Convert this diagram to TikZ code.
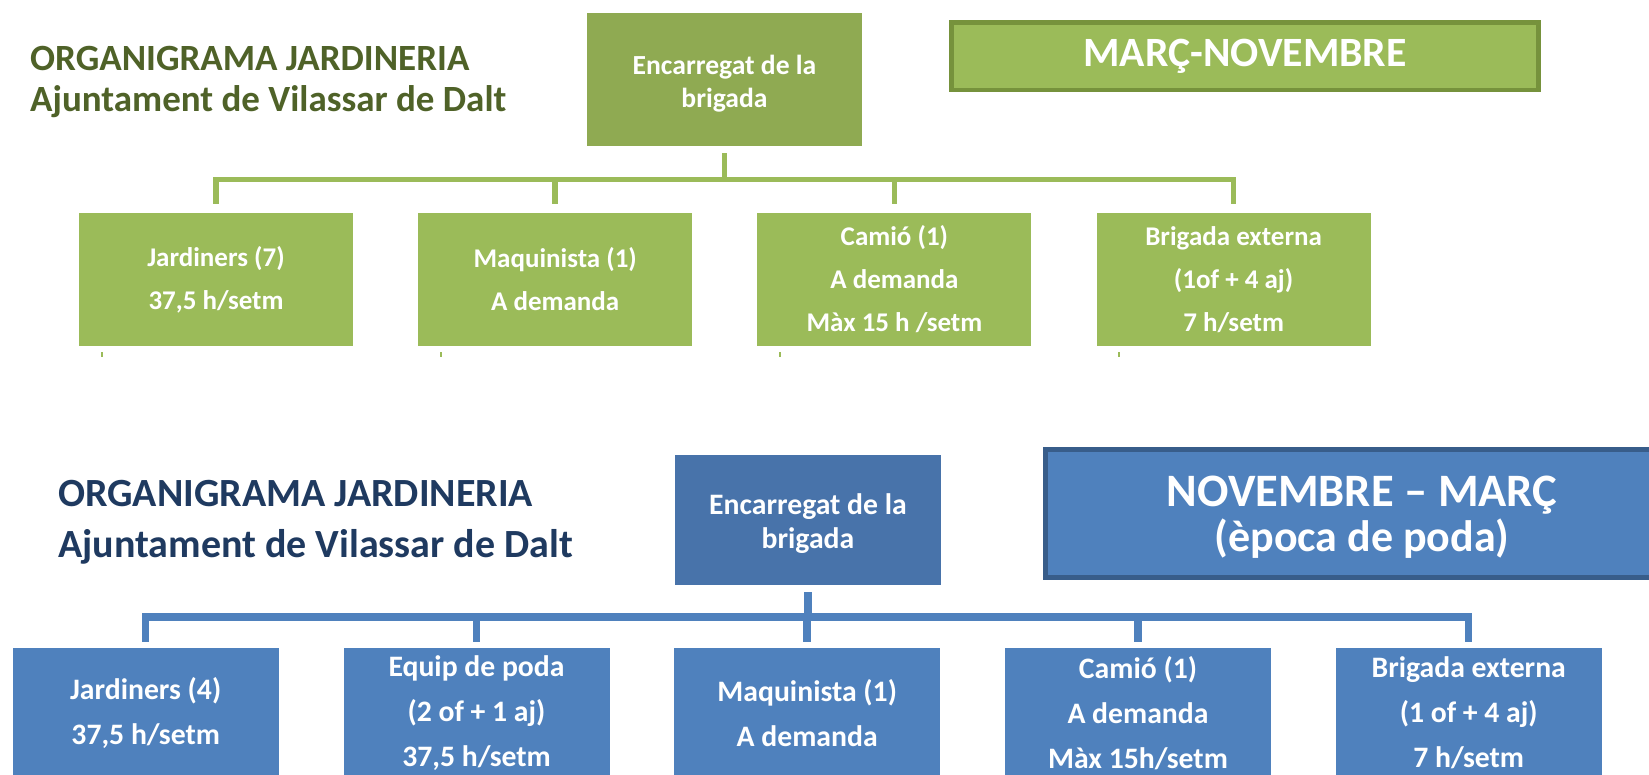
\documentclass[tikz,border=0pt]{standalone}
\usepackage{fontspec}
\setmainfont{Carlito}
\definecolor{gfill}{HTML}{9BBB59}
\definecolor{gtopc}{HTML}{8FAA52}
\definecolor{gborder}{HTML}{76923C}
\definecolor{gtitle}{HTML}{4F6228}
\definecolor{bfill}{HTML}{4F81BD}
\definecolor{btopc}{HTML}{4873AA}
\definecolor{bborder}{HTML}{385D8A}
\definecolor{btitle}{HTML}{1F3A60}
\begin{document}
\begin{tikzpicture}[x=1pt,y=-1pt,
  box/.style={draw=none, inner sep=0pt, align=center, text=white},
  label/.style={inner sep=0pt, align=center, text=white},
  gtitlestyle/.style={anchor=base west, inner sep=0pt, text=gtitle, font=\fontsize{37}{42}\selectfont\bfseries},
  btitlestyle/.style={anchor=base west, inner sep=0pt, text=btitle, font=\fontsize{40}{46}\selectfont\bfseries},
  gtopbox/.style={box, fill=gtopc, minimum width=275pt, minimum height=133pt},
  gtoptext/.style={label, font=\fontsize{27.6}{33}\selectfont\bfseries},
  gchild/.style={box, fill=gfill, minimum width=274pt, minimum height=133pt, font=\fontsize{27}{43}\selectfont\bfseries},
  gseasonbox/.style={box, fill=gfill, draw=gborder, line width=4.5pt, minimum width=587pt, minimum height=67.5pt, font=\fontsize{41.7}{48}\selectfont\bfseries},
  btopbox/.style={box, fill=btopc, minimum width=266pt, minimum height=130pt},
  btoptext/.style={label, font=\fontsize{29.7}{34}\selectfont\bfseries},
  bchild/.style={box, fill=bfill, minimum width=266pt, minimum height=132pt},
  bchildtext/.style={label, font=\fontsize{29.7}{45}\selectfont\bfseries},
  bseasonbox/.style={box, fill=bfill, draw=bborder, line width=5pt, minimum width=633pt, minimum height=128pt},
  bseasontext/.style={label, font=\fontsize{44}{45}\selectfont\bfseries},
  gconn/.style={draw=gfill, line width=5.5pt},
  bconn/.style={draw=bfill, line width=7.5pt},
  tick/.style={draw=gfill, line width=2pt}
]
\useasboundingbox (0,0) rectangle (1649,774);
\clip (0,0) rectangle (1649,774);
\fill[white] (0,0) rectangle (1649,774);

% ---------- green (top) ----------
\node[gtitlestyle] (gt1) at (30,70) {ORGANIGRAMA JARDINERIA};
\node[gtitlestyle] (gt2) at (30,111) {Ajuntament de Vilassar de Dalt};
\node[gtopbox] (gtop) at (724.5,79.5) {};
\node[gtoptext] (gtopt) at ([yshift=-4pt]gtop.center) {Encarregat de la\\brigada};
\node[gseasonbox] (gseason) at (1245,56) {MARÇ-NOVEMBRE};
\coordinate (gbus) at (724.5,179.5);

\node[gchild] (gc1) at (216,279.5) {Jardiners (7)\\37,5 h/setm};
\node[gchild] (gc2) at (555.2,279.5) {Maquinista (1)\\A demanda};
\node[gchild] (gc3) at (894.4,279.5) {Camió (1)\\A demanda\\Màx 15 h /setm};
\node[gchild] (gc4) at (1233.6,279.5) {Brigada externa\\(1of + 4 aj)\\7 h/setm};

\foreach \c in {gc1,gc2,gc3,gc4}{
  \draw[gconn] ([yshift=-7pt]gtop.south) -- (gtop.south |- gbus) -| ([yshift=9pt]\c.north);
}
\foreach \c in {gc1,gc2,gc3,gc4}{
  \draw[tick] ([xshift=23pt,yshift=-6pt]\c.south west) -- ++(0,5);
}

% ---------- blue (bottom) ----------
\node[btitlestyle] (bt1) at (58,506) {ORGANIGRAMA JARDINERIA};
\node[btitlestyle] (bt2) at (58,557) {Ajuntament de Vilassar de Dalt};
\node[btopbox] (btop) at (808,520) {};
\node[btoptext] (btopt) at ([yshift=-4pt]btop.center) {Encarregat de la\\brigada};
\node[bseasonbox] (bseason) at (1362,513.5) {};
\node[bseasontext] (bseasont) at ([yshift=-4pt]bseason.center) {{\fontsize{46.5}{45}\selectfont NOVEMBRE – MARÇ}\\(època de poda)};
\coordinate (bbus) at (808,617);

\node[bchild] (bc1) at (145.7,714) {};
\node[bchild] (bc2) at (476.5,714) {};
\node[bchild] (bc3) at (807.2,714) {};
\node[bchild] (bc4) at (1138,714) {};
\node[bchild] (bc5) at (1468.7,714) {};
\node[bchildtext] (bc1t) at ([yshift=1pt]bc1.center) {Jardiners (4)\\37,5 h/setm};
\node[bchildtext] (bc2t) at ([yshift=1pt]bc2.center) {Equip de poda\\(2 of + 1 aj)\\37,5 h/setm};
\node[bchildtext] (bc3t) at ([yshift=1pt]bc3.center) {Maquinista (1)\\A demanda};
\node[bchildtext] (bc4t) at ([yshift=1pt]bc4.center) {Camió (1)\\A demanda\\Màx 15h/setm};
\node[bchildtext] (bc5t) at ([yshift=1pt]bc5.center) {Brigada externa\\(1 of + 4 aj)\\7 h/setm};

\foreach \c in {bc1,bc2,bc3,bc4,bc5}{
  \draw[bconn] ([yshift=-7pt]btop.south) -- (btop.south |- bbus) -| ([yshift=6pt]\c.north);
}
\end{tikzpicture}
\end{document}
